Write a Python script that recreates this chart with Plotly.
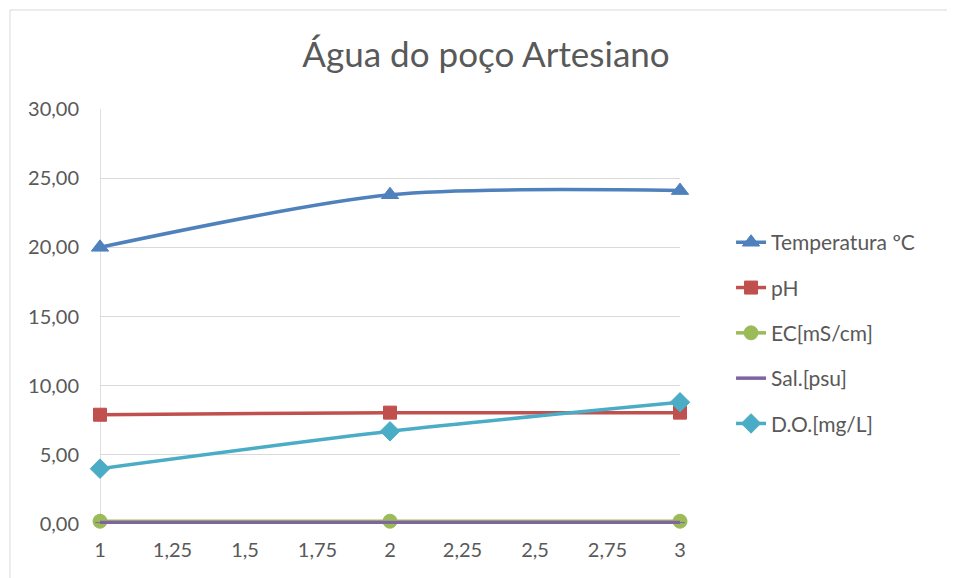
import plotly.graph_objects as go

x_vals = [1, 2, 3]
temperatura = [20.0, 23.8, 24.1]
ph = [7.9, 8.05, 8.05]
ec = [0.2, 0.2, 0.2]
sal = [0.1, 0.1, 0.1]
do_mg = [4.0, 6.7, 8.8]

series = [
    ("Temperatura ºC", temperatura, "#4F81BD", "triangle-up", 15),
    ("pH", ph, "#C0504D", "square", 13),
    ("EC[mS/cm]", ec, "#9BBB59", "circle", 14),
    ("Sal.[psu]", sal, "#8064A2", "line-ew-open", 7),
    ("D.O.[mg/L]", do_mg, "#4BACC6", "diamond", 15),
]

fig = go.Figure()
for i, (name, vals, color, sym, size) in enumerate(series):
    fig.add_trace(go.Scatter(
        x=x_vals, y=vals, name=name, mode="lines+markers",
        line=dict(color=color, width=3.5, shape="spline", smoothing=0.8),
        marker=dict(symbol=sym, size=size, color=color, line=dict(color=color, width=1)),
        legendgroup=f"g{i}", cliponaxis=False,
    ))

fig.update_layout(
    width=955, height=578,
    margin=dict(l=92, r=283, t=101, b=62),
    paper_bgcolor="white", plot_bgcolor="white",
    separators=",.",
    font=dict(family="Lato", color="#595959", size=20),
    title=dict(text="Água do poço Artesiano", x=(486 - 8) / 955, xanchor="center",
               y=1 - (55 - 8) / 578, yanchor="middle", font=dict(size=35, color="#595959")),
    xaxis=dict(range=[1, 3], dtick=0.25, tick0=1, showgrid=False, zeroline=False,
               showline=False, ticks="", tickfont=dict(size=20), ticklabelstandoff=12),
    yaxis=dict(range=[0, 30], dtick=5, tickformat=".2f", showgrid=True, gridcolor="#d9d9d9",
               gridwidth=1, zeroline=False, showline=False, ticks="", tickfont=dict(size=20),
               ticklabelstandoff=20),
    legend=dict(x=1.088, xanchor="left", y=0.46, yanchor="middle", font=dict(size=21),
                tracegroupgap=15, traceorder="grouped", bgcolor="rgba(0,0,0,0)"),
    showlegend=True,
)

# vertical axis line at x=1
fig.add_shape(type="line", xref="x", yref="paper", x0=1, x1=1, y0=0, y1=1,
              line=dict(color="#bfbfbf", width=1), layer="below")
# chart area border
fig.add_shape(type="rect", xref="paper", yref="paper",
              x0=-90 / 580, x1=860 / 580, y0=-61 / 415, y1=514 / 415,
              line=dict(color="#d9d9d9", width=1), layer="below")

fig.write_html("out.html")
